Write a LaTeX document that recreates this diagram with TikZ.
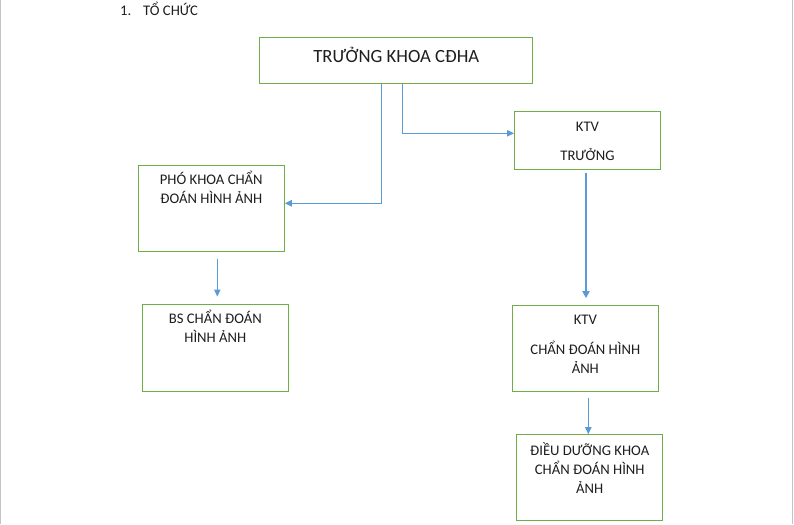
\documentclass[tikz,border=0pt]{standalone}
\usepackage{fontspec}
\setmainfont{Carlito}
\usepackage{tikz}
\usetikzlibrary{arrows.meta, positioning}

\definecolor{boxgreen}{HTML}{70AD47}
\definecolor{linkblue}{HTML}{5B9BD5}
\definecolor{pagegray}{HTML}{C4C4C4}
\definecolor{inkgray}{HTML}{1E1E1E}

\tikzset{
  box/.style={rectangle, draw=boxgreen, line width=1pt, fill=white, text=inkgray, inner sep=0pt,
    align=center, minimum width=146pt, font=\fontsize{14.67}{19}\selectfont},
  link/.style={draw=linkblue, line width=1pt, -{Triangle[length=7pt,width=6.5pt]}},
  thicklink/.style={link, line width=2pt, -{Triangle[length=7pt,width=7pt]}}
}

\begin{document}
\begin{tikzpicture}[x=1pt, y=-1pt]
    \useasboundingbox (0,0) rectangle (794,524);%page size
    \draw[pagegray, line width=1pt] (0.5,0) -- (0.5,524);%left page edge
    \draw[pagegray, line width=1pt] (792.5,0) -- (792.5,524);%right page edge
    \node (title) [anchor=base west, text=inkgray, inner sep=0pt, font=\fontsize{14.67}{18}\selectfont] at (120,16){\makebox[23pt][l]{1.}TỔ CHỨC};%heading
    \node (boss) [box, minimum width=272.7pt, text height=25.4pt, text depth=20.6pt, font=\fontsize{18.67}{22}\selectfont] at (396.3,60.3){TRƯỞNG KHOA CĐHA};%head of department
    \node (deputy) [box, text height=38.4pt, text depth=48pt, below=81pt of boss, xshift=-185pt]{PHÓ KHOA CHẨN\\ĐOÁN HÌNH ẢNH};%deputy head
    \node (ktvhead) [box, text height=48.6pt, text depth=9pt, below=27.4pt of boss, xshift=191.2pt]{KTV\\[10.3pt]TRƯỞNG};%chief technician
    \node (doctor) [box, text height=38pt, text depth=48.6pt, below=52pt of deputy, xshift=4pt]{BS CHẨN ĐOÁN\\HÌNH ẢNH};%doctors
    \node (ktv) [box, text height=68.4pt, text depth=17.3pt, below=135pt of ktvhead, xshift=-2.2pt]{KTV\\[11pt]CHẨN ĐOÁN HÌNH\\ẢNH};%technicians
    \node (nurse) [box, text height=58.3pt, text depth=27.3pt, below=42.7pt of ktv, xshift=4.4pt]{ĐIỀU DƯỠNG KHOA\\CHẨN ĐOÁN HÌNH\\ẢNH};%nurses
    \draw[link] ([xshift=-14.6pt]boss.south) |- ([yshift=5.2pt]deputy.east);%boss to deputy
    \draw[link] ([xshift=6pt]boss.south) |- ([yshift=7.2pt]ktvhead.west);%boss to chief technician
    \draw[link, shorten <=6.6pt, shorten >=7.7pt] ([xshift=6pt]deputy.south) -- ([xshift=2pt]doctor.north);%deputy to doctors
    \draw[thicklink, shorten <=3.4pt, shorten >=6.6pt] ([xshift=-1.5pt]ktvhead.south) -- ([xshift=0.7pt]ktv.north);%chief to technicians
    \draw[link, shorten <=6pt] ([xshift=3pt]ktv.south) -- ([xshift=-1.4pt]nurse.north);%technicians to nurses
  \end{tikzpicture}
\end{document}
